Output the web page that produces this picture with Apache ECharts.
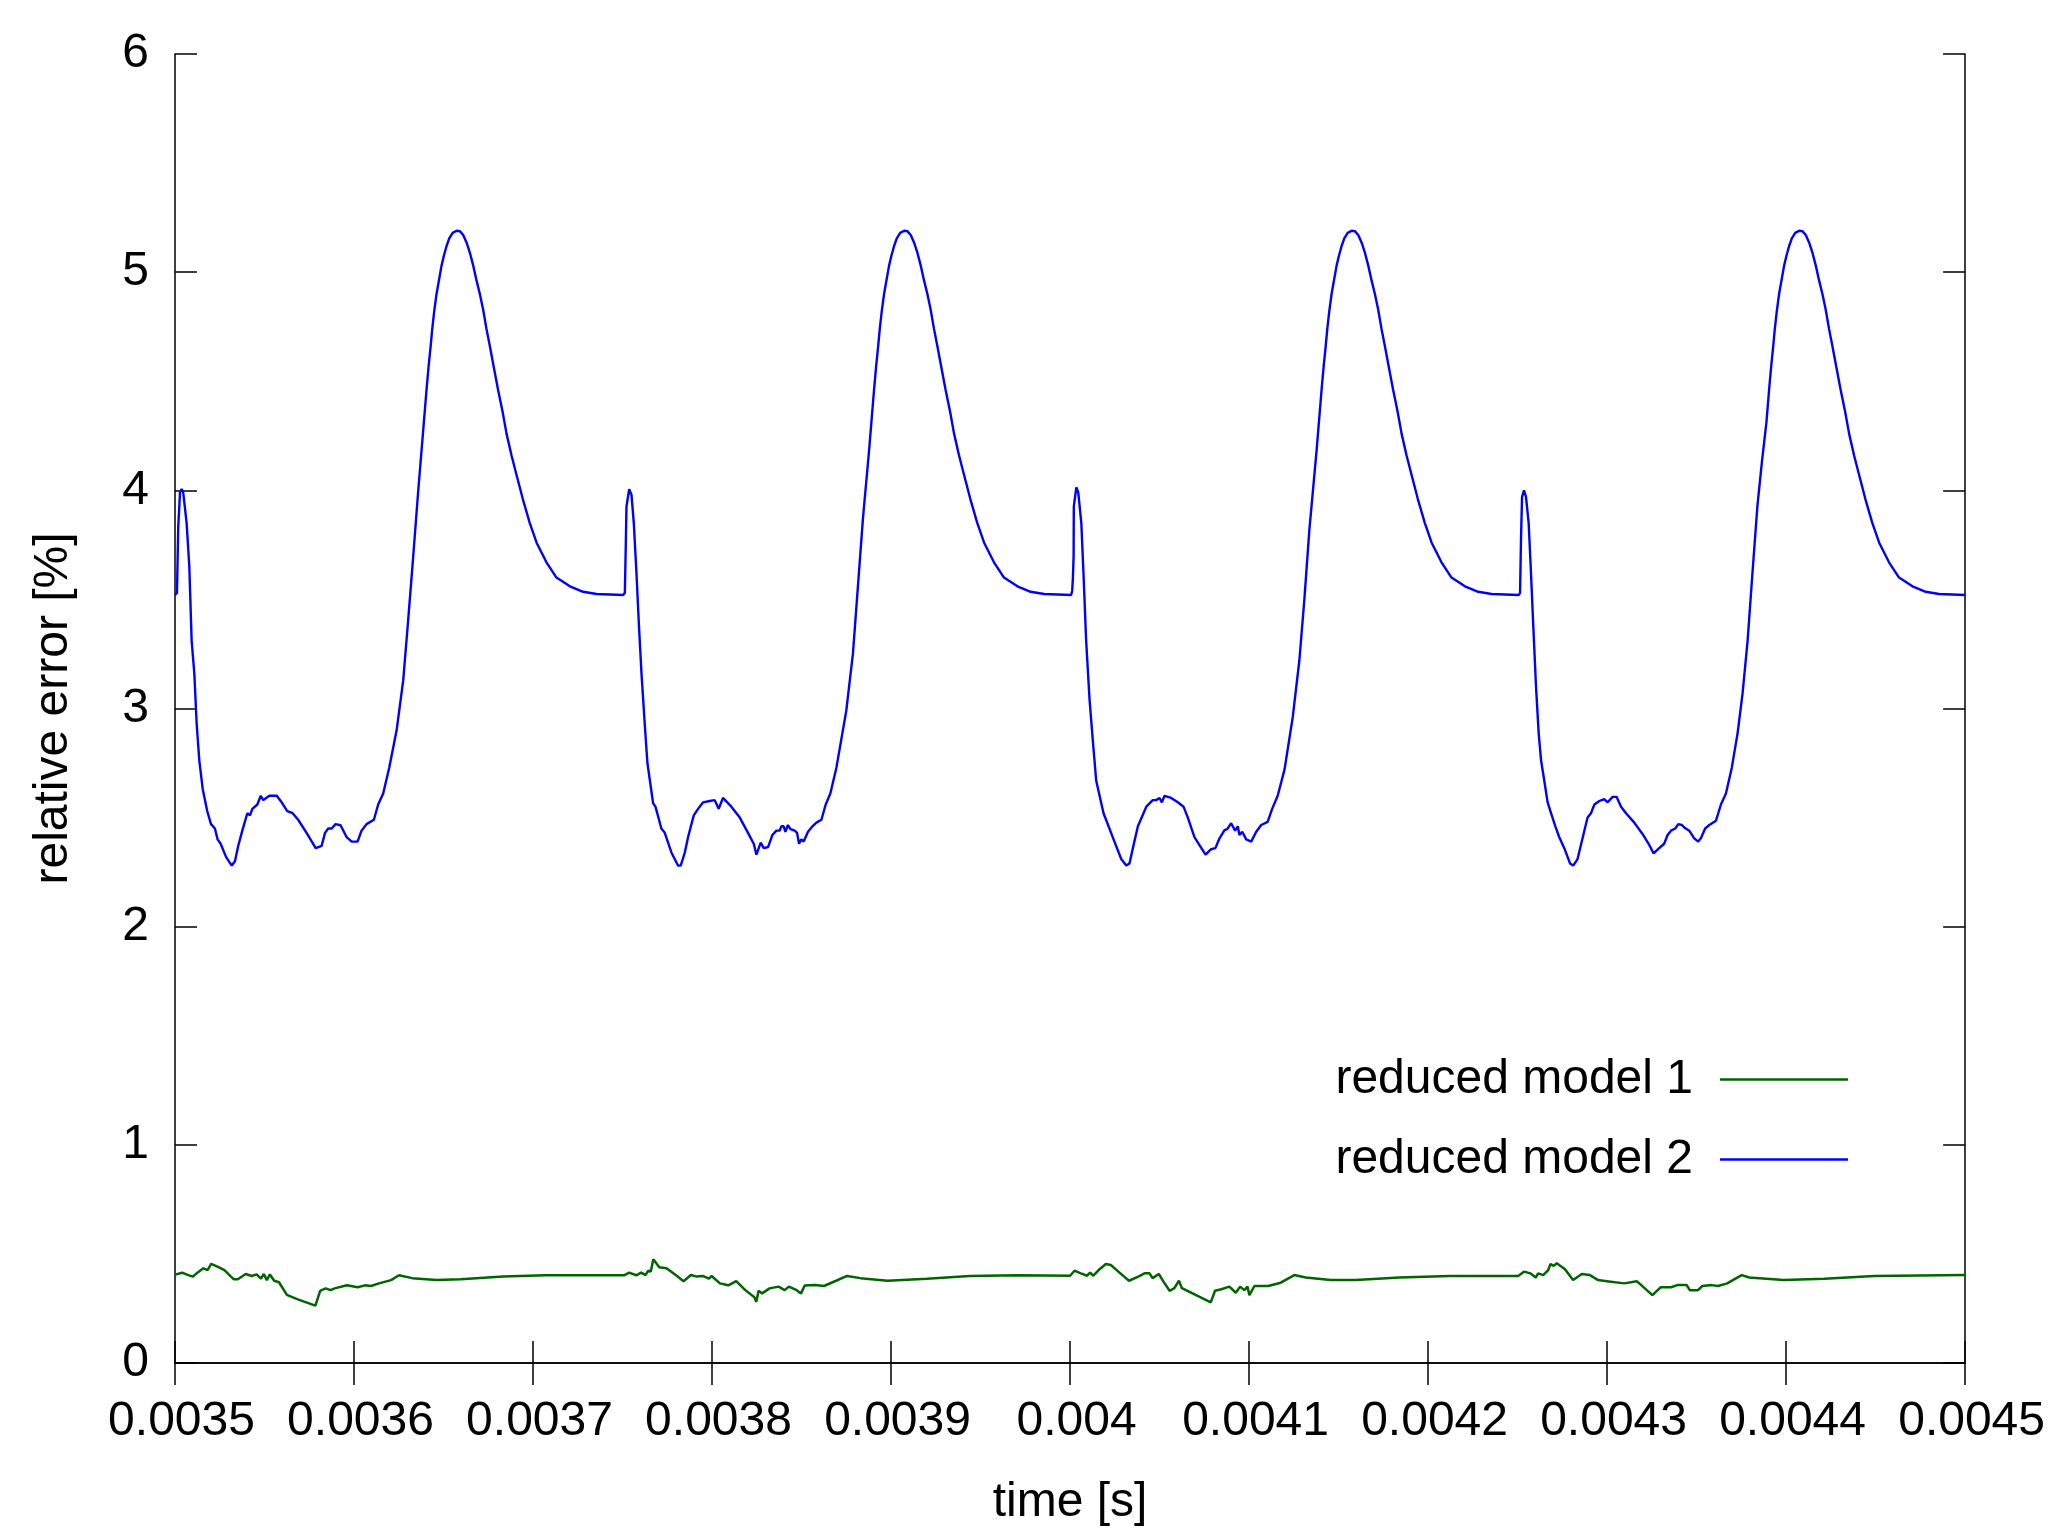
<!DOCTYPE html>
<html><head><meta charset="utf-8">
<script src="https://cdn.jsdelivr.net/npm/echarts@6/dist/echarts.min.js"></script>
<style>html,body{margin:0;padding:0;background:#fff}#chart{width:2048px;height:1536px}</style>
</head><body><div id="chart"></div>
<script>
// time in microseconds, value in %
const xTickLabels = ['0.0035','0.0036','0.0037','0.0038','0.0039','0.004','0.0041','0.0042','0.0043','0.0044','0.0045'];
const yTickLabels = ['0','1','2','3','4','5','6'];
const seriesNames = ['reduced model 1','reduced model 2'];

const model2Cycle1 = [[3500.0,3.52],[3500.6,3.52],[3501.1,3.53],[3501.8,3.83],[3502.8,3.99],[3503.7,4.006],[3504.6,3.99],[3506.5,3.85],[3508.0,3.65],[3509.3,3.31],[3510.8,3.16],[3512.1,2.93],[3513.6,2.76],[3515.5,2.63],[3518.0,2.53],[3520.1,2.47],[3522.3,2.45],[3523.8,2.40],[3525.5,2.38],[3528.5,2.32],[3531.7,2.28],[3533.5,2.30],[3535.3,2.37],[3537.6,2.44],[3540.4,2.52],[3541.9,2.51],[3543.2,2.54],[3546.0,2.56],[3547.9,2.60],[3549.3,2.58],[3552.7,2.60],[3556.8,2.60],[3559.6,2.57],[3562.7,2.53],[3565.7,2.52],[3568.8,2.49],[3573.5,2.43],[3578.6,2.36],[3581.9,2.37],[3583.8,2.43],[3584.7,2.43],[3585.6,2.45],[3587.5,2.45],[3589.7,2.47],[3592.5,2.465],[3595.9,2.41],[3598.7,2.39],[3602.0,2.39],[3604.2,2.44],[3607.0,2.47],[3611.1,2.49],[3613.5,2.56],[3616.3,2.61],[3619.7,2.73],[3623.8,2.90],[3627.5,3.13],[3630.3,3.41],[3633.1,3.70],[3635.8,3.99],[3637.7,4.18],[3639.0,4.31],[3640.5,4.46],[3641.7,4.57],[3642.8,4.66],[3643.7,4.74],[3644.8,4.82],[3646.1,4.90],[3647.6,4.97],[3648.9,5.03],[3650.2,5.075],[3651.7,5.12],[3653.2,5.155],[3655.1,5.18],[3657.3,5.19],[3659.1,5.188],[3661.0,5.17],[3662.9,5.135],[3664.7,5.09],[3666.6,5.03],[3668.5,4.96],[3670.3,4.90],[3672.1,4.83],[3674.0,4.74],[3675.9,4.66],[3678.3,4.555],[3680.5,4.46],[3683.0,4.36],[3685.2,4.26],[3688.0,4.16],[3690.8,4.07],[3694.3,3.96],[3698.2,3.85],[3702.0,3.76],[3707.5,3.67],[3713.1,3.60],[3720.6,3.56],[3728.0,3.535],[3735.5,3.525],[3750.3,3.52]];

const model2Cycle2 = [[3751.3,3.53],[3751.8,3.74],[3752.2,3.925],[3753.7,4.005],[3755.0,3.98],[3756.3,3.85],[3757.8,3.62],[3759.2,3.375],[3760.6,3.16],[3762.4,2.93],[3763.9,2.75],[3767.1,2.565],[3768.4,2.55],[3771.7,2.45],[3773.6,2.43],[3777.3,2.34],[3781.0,2.28],[3782.5,2.28],[3784.8,2.34],[3786.6,2.41],[3788.5,2.47],[3789.8,2.51],[3792.2,2.54],[3795.0,2.57],[3795.9,2.565],[3798.7,2.576],[3801.5,2.58],[3803.7,2.54],[3806.1,2.59],[3810.8,2.55],[3815.5,2.50],[3820.1,2.43],[3823.3,2.38],[3823.8,2.375],[3824.8,2.33],[3827.2,2.385],[3828.9,2.36],[3831.3,2.365],[3833.7,2.42],[3836.0,2.44],[3837.8,2.44],[3838.7,2.46],[3840.0,2.46],[3841.0,2.435],[3842.4,2.466],[3843.8,2.447],[3846.2,2.44],[3847.5,2.43],[3848.6,2.38],[3849.9,2.40],[3851.2,2.39],[3853.6,2.435],[3856.1,2.46],[3858.3,2.477],[3861.1,2.49],[3863.5,2.56],[3866.1,2.61],[3869.5,2.73],[3875.0,2.99],[3878.7,3.25],[3881.5,3.56],[3884.3,3.87],[3887.7,4.18],[3889.0,4.31],[3890.5,4.46],[3891.7,4.57],[3892.8,4.66],[3893.7,4.74],[3894.8,4.82],[3896.1,4.90],[3897.6,4.97],[3898.9,5.03],[3900.2,5.075],[3901.7,5.12],[3903.2,5.155],[3905.1,5.18],[3907.3,5.19],[3909.1,5.188],[3911.0,5.17],[3912.9,5.135],[3914.7,5.09],[3916.6,5.03],[3918.5,4.96],[3920.3,4.90],[3922.1,4.83],[3924.0,4.74],[3925.9,4.66],[3928.3,4.555],[3930.5,4.46],[3933.0,4.36],[3935.2,4.26],[3938.0,4.16],[3940.8,4.07],[3944.3,3.96],[3948.2,3.85],[3952.0,3.76],[3957.5,3.67],[3963.1,3.60],[3970.6,3.56],[3978.0,3.535],[3985.5,3.525],[4000.6,3.52]];

const model2Cycle3 = [[4001.2,3.54],[4001.6,3.60],[4002.0,3.70],[4002.1,3.925],[4003.5,4.014],[4004.6,3.99],[4006.3,3.85],[4007.5,3.62],[4009.0,3.31],[4010.9,3.04],[4012.7,2.855],[4014.6,2.67],[4016.5,2.60],[4018.7,2.52],[4020.6,2.48],[4024.8,2.39],[4028.6,2.31],[4031.4,2.28],[4033.2,2.29],[4035.1,2.36],[4037.9,2.46],[4042.6,2.55],[4046.2,2.58],[4048.1,2.58],[4050.0,2.59],[4051.3,2.57],[4052.8,2.60],[4056.5,2.59],[4060.2,2.57],[4063.4,2.55],[4065.8,2.50],[4069.5,2.41],[4072.3,2.374],[4075.7,2.33],[4078.8,2.355],[4081.2,2.36],[4083.5,2.405],[4086.3,2.443],[4087.8,2.447],[4090.0,2.474],[4092.2,2.44],[4093.7,2.46],[4094.6,2.42],[4096.2,2.435],[4098.4,2.40],[4101.2,2.39],[4104.0,2.435],[4106.8,2.466],[4110.4,2.48],[4112.9,2.54],[4116.0,2.60],[4119.8,2.72],[4124.4,2.96],[4128.1,3.22],[4130.9,3.50],[4133.7,3.82],[4137.7,4.18],[4139.0,4.31],[4140.5,4.46],[4141.7,4.57],[4142.8,4.66],[4143.7,4.74],[4144.8,4.82],[4146.1,4.90],[4147.6,4.97],[4148.9,5.03],[4150.2,5.075],[4151.7,5.12],[4153.2,5.155],[4155.1,5.18],[4157.3,5.19],[4159.1,5.188],[4161.0,5.17],[4162.9,5.135],[4164.7,5.09],[4166.6,5.03],[4168.5,4.96],[4170.3,4.90],[4172.1,4.83],[4174.0,4.74],[4175.9,4.66],[4178.3,4.555],[4180.5,4.46],[4183.0,4.36],[4185.2,4.26],[4188.0,4.16],[4190.8,4.07],[4194.3,3.96],[4198.2,3.85],[4202.0,3.76],[4207.5,3.67],[4213.1,3.60],[4220.6,3.56],[4228.0,3.535],[4235.5,3.525],[4250.6,3.52]];

const model2Cycle4 = [[4251.4,3.53],[4251.9,3.77],[4252.5,3.97],[4253.6,4.00],[4254.7,3.97],[4256.2,3.85],[4257.5,3.62],[4258.8,3.375],[4260.3,3.10],[4261.8,2.886],[4263.1,2.764],[4264.9,2.67],[4266.8,2.57],[4268.7,2.52],[4271.1,2.46],[4273.3,2.41],[4276.1,2.36],[4279.3,2.29],[4281.1,2.28],[4283.5,2.31],[4286.3,2.405],[4289.1,2.50],[4291.0,2.52],[4292.9,2.56],[4295.7,2.576],[4298.4,2.585],[4300.3,2.57],[4303.1,2.595],[4305.3,2.595],[4307.8,2.55],[4310.6,2.52],[4315.2,2.477],[4319.8,2.425],[4323.2,2.38],[4326.0,2.336],[4329.1,2.36],[4331.9,2.38],[4333.8,2.42],[4335.7,2.44],[4338.1,2.45],[4339.8,2.47],[4341.8,2.466],[4343.1,2.455],[4345.9,2.44],[4348.7,2.405],[4350.9,2.39],[4352.4,2.405],[4354.8,2.45],[4357.1,2.466],[4360.8,2.485],[4363.6,2.56],[4366.4,2.61],[4369.7,2.73],[4372.9,2.886],[4375.7,3.07],[4378.5,3.31],[4381.2,3.62],[4384.0,3.93],[4386.5,4.13],[4389.0,4.31],[4390.5,4.46],[4391.7,4.57],[4392.8,4.66],[4393.7,4.74],[4394.8,4.82],[4396.1,4.90],[4397.6,4.97],[4398.9,5.03],[4400.2,5.075],[4401.7,5.12],[4403.2,5.155],[4405.1,5.18],[4407.3,5.19],[4409.1,5.188],[4411.0,5.17],[4412.9,5.135],[4414.7,5.09],[4416.6,5.03],[4418.5,4.96],[4420.3,4.90],[4422.1,4.83],[4424.0,4.74],[4425.9,4.66],[4428.3,4.555],[4430.5,4.46],[4433.0,4.36],[4435.2,4.26],[4438.0,4.16],[4440.8,4.07],[4444.3,3.96],[4448.2,3.85],[4452.0,3.76],[4457.5,3.67],[4463.1,3.60],[4470.6,3.56],[4478.0,3.535],[4485.5,3.525],[4500.0,3.52]];

const model1Part1 = [[3500.0,0.405],[3500.6,0.408],[3504.0,0.414],[3507.4,0.403],[3510.0,0.396],[3512.5,0.414],[3515.8,0.434],[3518.2,0.426],[3520.2,0.454],[3524.3,0.439],[3527.6,0.426],[3532.7,0.384],[3535.1,0.384],[3539.5,0.408],[3542.9,0.399],[3545.6,0.406],[3548.0,0.387],[3549.6,0.408],[3551.3,0.380],[3553.0,0.406],[3555.4,0.377],[3558.1,0.370],[3562.5,0.312],[3568.2,0.293],[3578.4,0.263],[3581.1,0.331],[3584.1,0.342],[3586.9,0.334],[3589.2,0.342],[3596.0,0.356],[3602.1,0.347],[3606.1,0.356],[3609.5,0.353],[3613.9,0.365],[3620.7,0.380],[3625.1,0.402],[3632.5,0.389],[3646.1,0.380],[3659.6,0.384],[3683.3,0.396],[3706.9,0.402],[3734.0,0.402],[3750.9,0.402]];

const model1Part2 = [[3753.7,0.414],[3757.7,0.402],[3760.4,0.414],[3762.8,0.403],[3764.4,0.423],[3765.8,0.419],[3767.2,0.475],[3770.5,0.439],[3774.6,0.434],[3779.7,0.403],[3784.1,0.375],[3788.2,0.403],[3791.5,0.396],[3794.8,0.399],[3798.3,0.387],[3799.8,0.399],[3804.4,0.365],[3809.1,0.356],[3813.5,0.375],[3818.6,0.334],[3823.7,0.301],[3824.7,0.280],[3826.0,0.331],[3828.0,0.319],[3832.1,0.342],[3837.2,0.350],[3840.6,0.334],[3842.9,0.350],[3847.3,0.334],[3849.7,0.319],[3851.8,0.355],[3857.5,0.357],[3862.5,0.353],[3869.3,0.377],[3875.4,0.399],[3882.9,0.389],[3898.1,0.377],[3920.0,0.386],[3943.8,0.399],[3970.8,0.402],[4000.0,0.400]];

const model1Part3 = [[4002.5,0.423],[4006.0,0.411],[4009.5,0.400],[4011.2,0.414],[4013.0,0.400],[4016.5,0.430],[4020.0,0.454],[4022.8,0.449],[4027.0,0.419],[4032.9,0.377],[4038.1,0.396],[4041.6,0.411],[4044.4,0.411],[4046.1,0.389],[4049.6,0.408],[4052.1,0.374],[4055.6,0.331],[4058.3,0.343],[4060.8,0.377],[4062.5,0.343],[4078.6,0.278],[4081.0,0.331],[4084.5,0.338],[4089.0,0.350],[4092.6,0.322],[4095.0,0.350],[4097.4,0.334],[4099.1,0.350],[4100.2,0.311],[4103.0,0.353],[4110.7,0.353],[4117.7,0.368],[4125.3,0.403],[4131.7,0.392],[4145.6,0.380],[4159.6,0.380],[4184.0,0.392],[4211.9,0.399],[4239.8,0.399],[4250.3,0.399]];

const model1Part4 = [[4253.8,0.419],[4257.1,0.411],[4260.1,0.392],[4261.5,0.411],[4264.3,0.403],[4267.1,0.426],[4268.4,0.454],[4270.2,0.445],[4271.9,0.457],[4274.0,0.445],[4276.5,0.430],[4281.0,0.380],[4285.9,0.408],[4290.4,0.403],[4295.0,0.380],[4300.9,0.374],[4309.6,0.365],[4316.6,0.375],[4325.3,0.311],[4329.9,0.347],[4335.8,0.347],[4339.2,0.357],[4344.5,0.357],[4346.2,0.334],[4350.8,0.334],[4353.2,0.353],[4358.5,0.357],[4362.0,0.353],[4367.1,0.365],[4375.2,0.403],[4379.4,0.392],[4398.6,0.380],[4421.3,0.386],[4449.2,0.399],[4500.0,0.403]];

const model1Data = [].concat(model1Part1, model1Part2, model1Part3, model1Part4);
const model2Data = [].concat(model2Cycle1, model2Cycle2, model2Cycle3, model2Cycle4);

const FONT = '"Liberation Sans", Arial, sans-serif';
const BLACK = '#000000';
const xMin = 3500, xMax = 4500, xStep = 100;

function xLabel(v){ const i = Math.round((v - xMin) / xStep); return xTickLabels[i] !== undefined ? xTickLabels[i] : ''; }
function yLabel(v){ const i = Math.round(v); return yTickLabels[i] !== undefined ? yTickLabels[i] : ''; }

const axisCommonLine = {show:true, lineStyle:{color:BLACK, width:1.5}};
const tickCommon = {show:true, inside:true, length:22, lineStyle:{color:BLACK, width:1.5}};

const chart = echarts.init(document.getElementById('chart'), null, {renderer:'canvas'});
chart.setOption({
  animation:false,
  backgroundColor:'#ffffff',
  grid:{left:175, right:82, top:54, bottom:173, containLabel:false},
  xAxis:[
    {type:'value', position:'bottom', min:xMin, max:xMax, interval:xStep,
     name:'time [s]', nameLocation:'middle', nameGap:116,
     nameTextStyle:{fontSize:48, color:BLACK, fontFamily:FONT},
     axisLine:axisCommonLine, axisTick:tickCommon, splitLine:{show:false},
     axisLabel:{fontSize:48, color:BLACK, fontFamily:FONT, margin:35, padding:[0,0,0,13], formatter:xLabel}},
    {type:'value', position:'top', min:xMin, max:xMax, interval:xStep,
     axisLine:axisCommonLine, axisTick:tickCommon, splitLine:{show:false},
     axisLabel:{show:false}}
  ],
  yAxis:[
    {type:'value', position:'left', min:0, max:6, interval:1,
     name:'relative error [%]', nameLocation:'middle', nameGap:97, nameRotate:90,
     nameTextStyle:{fontSize:48, color:BLACK, fontFamily:FONT},
     axisLine:axisCommonLine, axisTick:tickCommon, splitLine:{show:false},
     axisLabel:{fontSize:48, color:BLACK, fontFamily:FONT, margin:26, padding:[12,0,0,0], formatter:yLabel}},
    {type:'value', position:'right', min:0, max:6, interval:1,
     axisLine:axisCommonLine, axisTick:tickCommon, splitLine:{show:false},
     axisLabel:{show:false}}
  ],
  legend:{
    orient:'vertical', right:200, top:1055, padding:0, align:'right',
    itemWidth:128, itemHeight:2.5, itemGap:31, icon:'rect',
    textStyle:{fontSize:48, lineHeight:49, color:BLACK, fontFamily:FONT, padding:[0,22,0,0]},
    data:seriesNames
  },
  series:[
    {name:seriesNames[0], type:'line', xAxisIndex:0, yAxisIndex:0, data:model1Data,
     symbol:'none', showSymbol:false, lineStyle:{color:'#006400', width:2.5}, itemStyle:{color:'#006400'}},
    {name:seriesNames[1], type:'line', xAxisIndex:0, yAxisIndex:0, data:model2Data,
     symbol:'none', showSymbol:false, lineStyle:{color:'#0000ff', width:2.4}, itemStyle:{color:'#0000ff'}}
  ]
});
</script>
</body></html>
